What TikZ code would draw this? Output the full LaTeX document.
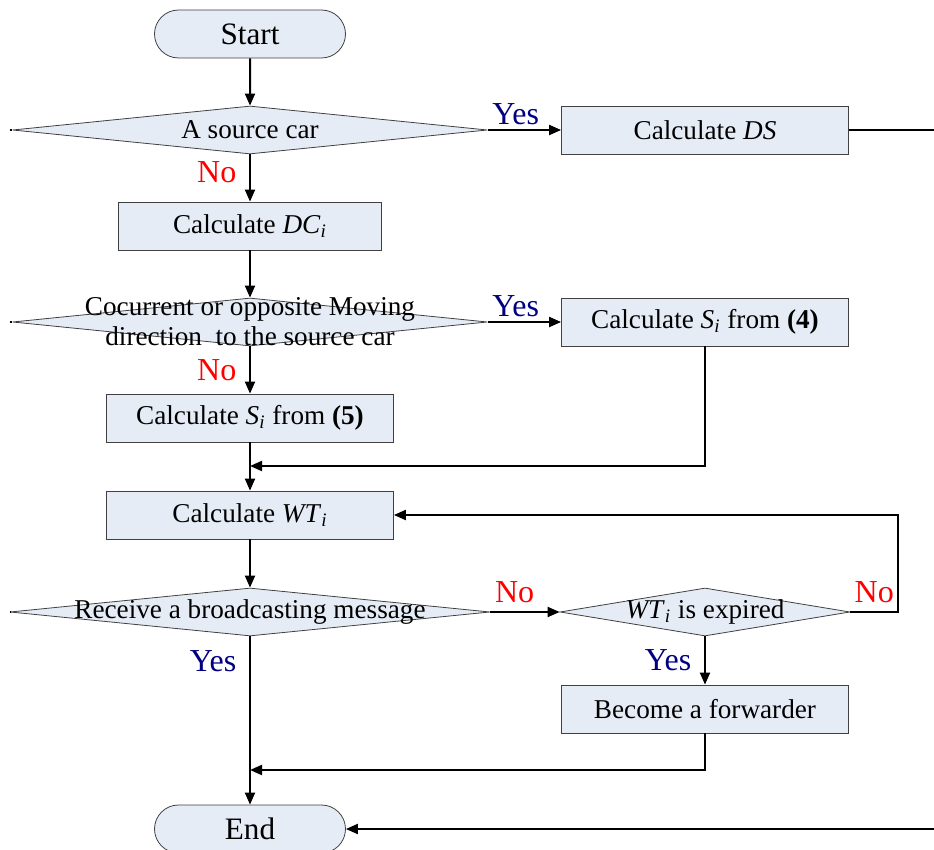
\documentclass[tikz,border=0pt]{standalone}
\usepackage{fontspec}
\setmainfont{Liberation Serif}
\usetikzlibrary{shapes.geometric,shapes.misc,arrows.meta}
\definecolor{boxfill}{RGB}{230,236,246}
\definecolor{yesblue}{RGB}{0,0,128}
\newcommand{\itsub}[2]{\textit{#1}\textsubscript{\textit{#2}}}

\begin{document}
\begin{tikzpicture}[x=0.5pt, y=-0.5pt, font=\fontsize{13.6}{15}\selectfont,
    >={Triangle[length=6pt,width=5pt]},
    terminal/.style={rounded rectangle, draw=black!75, fill=boxfill,
      minimum width=95.5pt, minimum height=24pt, inner sep=0pt,
      font=\fontsize{15.6}{17}\selectfont},
    process/.style={rectangle, draw=black!75, fill=boxfill,
      minimum width=#1, minimum height=24pt, inner sep=0pt},
    decision/.style={diamond, draw=black!75, fill=boxfill,
      minimum width=#1, minimum height=24pt, inner sep=0pt},
    flow/.style={line width=1pt},
    yeslabel/.style={text=yesblue, font=\fontsize{16}{18}\selectfont},
    nolabel/.style={text=red, font=\fontsize{16}{18}\selectfont}]
    \useasboundingbox (0,0) rectangle (934,850);
    % Nodes
    \node[terminal] (start) at (250,34) {Start};
    \node[decision=237.5pt, label=center:{A source car}] (car) at (250,130) {};
    \node[process=143.5pt] (ds) at (705,130) {Calculate \textit{DS}};
    \node[process=131.5pt] (dc) at (250,226) {Calculate \itsub{DC}{i}};
    \node[decision=237.5pt, label={[align=center]center:Cocurrent or opposite Moving\\direction\ \ to the source car}] (dir) at (250,322) {};
    \node[process=143.5pt] (sfour) at (705,322) {Calculate \itsub{S}{i} from \textbf{(4)}};
    \node[process=143.5pt] (sfive) at (250,418) {Calculate \itsub{S}{i} from \textbf{(5)}};
    \node[process=143.5pt] (wt) at (250,515) {Calculate \itsub{WT}{i}};
    \node[decision=240pt, label=center:{Receive a broadcasting message}] (recv) at (250,612) {};
    \node[decision=145pt, label=center:{\itsub{WT}{i} is expired}] (expired) at (705,612) {};
    \node[process=143.5pt] (fwd) at (705,709) {Become a forwarder};
    \node[terminal] (end) at (250,829) {End};
    % Free ends and joins
    \coordinate (carstub) at (10,130);
    \coordinate (dirstub) at (10,322);
    \coordinate (recvstub) at (10,612);
    \coordinate (dsout) at (934,130);
    \coordinate (endin) at (934,829);
    \coordinate (joinone) at (250,466);
    \coordinate (jointwo) at (250,770);
    \coordinate (loopcorner) at (898,612);
    % Connectors
    \draw[flow,->] (start) -- (car);
    \draw[flow] (carstub) -- (car.west);
    \draw[flow,->] (car.east) -- node[pos=0.38, above=-1pt, yeslabel] {Yes} (ds.west);
    \draw[flow] (ds.east) -- (dsout);
    \draw[flow,->] (car.south) -- node[pos=0.38, left=3pt, nolabel] {No} (dc.north);
    \draw[flow,->] (dc) -- (dir);
    \draw[flow] (dirstub) -- (dir.west);
    \draw[flow,->] (dir.east) -- node[pos=0.38, above=-1pt, yeslabel] {Yes} (sfour.west);
    \draw[flow,->] (dir.south) -- node[pos=0.5, left=3pt, nolabel] {No} (sfive.north);
    \draw[flow,->] (sfive) -- (wt);
    \draw[flow,->] (sfour.south) |- (joinone);
    \draw[flow,->] (wt) -- (recv);
    \draw[flow] (recvstub) -- (recv.west);
    \draw[flow,->] (recv.east) -- node[pos=0.35, above=1pt, nolabel] {No} (expired.west);
    \draw[flow,->] (expired.east) -- node[above=1pt, nolabel] {No} (loopcorner) |- (wt.east);
    \draw[flow,->] (expired.south) -- node[pos=0.5, left=3pt, yeslabel] {Yes} (fwd.north);
    \draw[flow,->] (fwd.south) |- (jointwo);
    \draw[flow,->] (recv.south) -- node[pos=0.15, left=3pt, yeslabel] {Yes} (end.north);
    \draw[flow,->] (endin) -- (end.east);
\end{tikzpicture}
\end{document}
